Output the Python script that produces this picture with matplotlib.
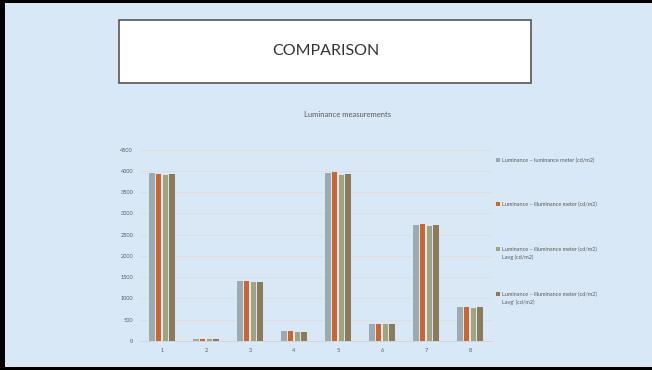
import matplotlib
matplotlib.use("Agg")
import matplotlib.pyplot as plt
import numpy as np
from matplotlib.patches import Rectangle

plt.rcParams['font.family'] = ['Lato', 'DejaVu Sans']

categories = ["1", "2", "3", "4", "5", "6", "7", "8"]
series_names = [
    "Luminance \u2013 luminance meter (cd/m2)",
    "Luminance \u2013 illuminance meter (cd/m2)",
    "Luminance \u2013 illuminance meter (cd/m2)\nLavg (cd/m2)",
    "Luminance \u2013 illuminance meter (cd/m2)\nLavg' (cd/m2)",
]
lum_meter = [3940, 55, 1400, 228, 3950, 395, 2720, 790]
illum_meter = [3935, 55, 1400, 225, 3970, 395, 2740, 790]
illum_lavg = [3890, 52, 1380, 222, 3890, 395, 2700, 785]
illum_lavg2 = [3925, 55, 1390, 222, 3920, 395, 2720, 790]
colors = ["#9aacb1", "#cc6630", "#a0a581", "#8b7b5b"]

bg = "#d9e8f6"
fig = plt.figure(figsize=(6.52, 3.70), dpi=100)
fig.patch.set_facecolor(bg)

# slide frame (top, left, bottom edges)
fig.add_artist(Rectangle((0, 1 - 3 / 370), 1, 3 / 370, transform=fig.transFigure,
                         facecolor="black", edgecolor="none"))
fig.add_artist(Rectangle((0, 0), 5 / 652, 1, transform=fig.transFigure,
                         facecolor="black", edgecolor="none"))
fig.add_artist(Rectangle((0, 0), 1, 3 / 370, transform=fig.transFigure,
                         facecolor="black", edgecolor="none"))
# title box
fig.add_artist(Rectangle((119 / 652, 1 - 83 / 370), 412 / 652, 63 / 370,
                         transform=fig.transFigure, facecolor="white",
                         edgecolor="#555555", linewidth=1.2))
fig.text(326 / 652, 1 - 51 / 370, "COMPARISON", ha="center", va="center",
         fontsize=11.5, color="#333333")

ax = fig.add_axes([140 / 652, 29 / 370, 352 / 652, 191.5 / 370])
ax.set_facecolor("none")

x = np.arange(len(categories))
width = 0.12
pitch = 0.15
all_series = [lum_meter, illum_meter, illum_lavg, illum_lavg2]
for i, (vals, c) in enumerate(zip(all_series, colors)):
    ax.bar(x + (i - 1.5) * pitch, vals, width, color=c, zorder=3)

ax.set_xlim(-0.5, len(categories) - 0.5)
ax.set_ylim(0, 4500)
ax.set_yticks(np.arange(0, 4501, 500))
ax.set_xticks(x)
ax.set_xticklabels(categories)
ax.tick_params(axis="both", length=0, labelsize=4, colors="#595959", pad=5)
ax.grid(axis="y", color="#e2ddd8", linewidth=0.6, zorder=0)
for s in ["top", "right", "left"]:
    ax.spines[s].set_visible(False)
ax.spines["bottom"].set_color("#d9d4cf")
ax.spines["bottom"].set_linewidth(0.7)

fig.text(348 / 652, 1 - 115 / 370, "Luminance measurements", ha="center",
         va="center", fontsize=5.5, color="#595959")

# legend
leg_y = [160, 204, 249, 294]
for name, c, yy in zip(series_names, colors, leg_y):
    fig.add_artist(Rectangle((495.5 / 652, 1 - (yy + 2) / 370), 4 / 652, 4 / 370,
                             transform=fig.transFigure, facecolor=c, edgecolor="none"))
    fig.text(502 / 652, 1 - (yy - 2.5) / 370, name, ha="left", va="top",
             fontsize=4, color="#595959", linespacing=1.5)

fig.savefig("out.png", dpi=100, facecolor=bg)
